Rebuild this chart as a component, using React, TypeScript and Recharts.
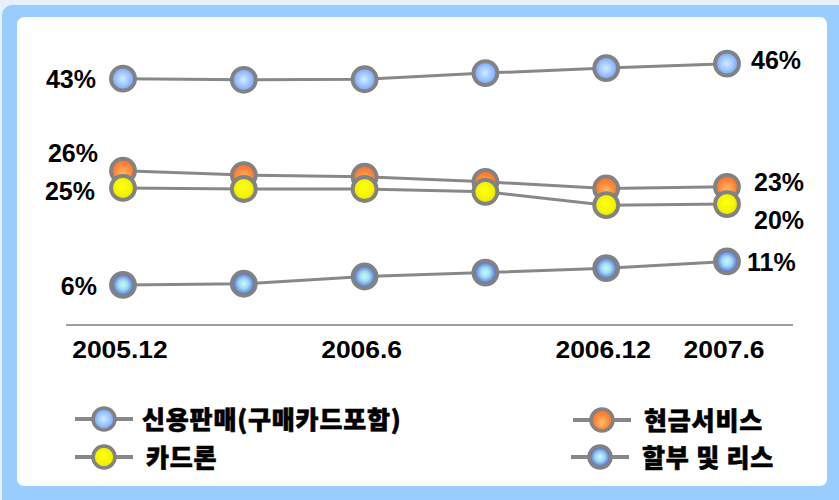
import { LineChart, Line, XAxis, YAxis, LabelList } from 'recharts'

// x categories (only four are labelled on the original)
const xLabels = ['2005.12', '', '2006.6', '', '2006.12', '2007.6']

// shares in %
const creditSales = [42.7, 42.5, 42.6, 43.7, 44.6, 45.4]
const cashService = [26.2, 25.4, 25.1, 24.2, 23.0, 23.3]
const cardLoan = [23.1, 22.9, 22.9, 22.4, 20.0, 20.2]
const installment = [5.7, 5.9, 7.2, 7.9, 8.7, 9.9]

// printed labels at first / last point
const creditSalesLabels = ['43%', '46%']
const cashServiceLabels = ['26%', '23%']
const cardLoanLabels = ['25%', '20%']
const installmentLabels = ['6%', '11%']

const data = xLabels.map((_, i) => ({
  idx: i,
  creditSales: creditSales[i],
  cashService: cashService[i],
  cardLoan: cardLoan[i],
  installment: installment[i],
}))

const NUM_FONT = '"Liberation Sans", Arial, sans-serif'
const KR_FONT = '"Noto Sans CJK KR", "Noto Sans", sans-serif'
const LINE = '#888888'
const DOT_STROKE = '#828282'

const Gradients = ({ suffix = '' }: { suffix?: string }) => (
  <defs>
    <radialGradient id={'gBlue' + suffix} cx="50%" cy="50%" r="50%" fx="48%" fy="50%">
      <stop offset="0%" stopColor="#d2eaff" />
      <stop offset="50%" stopColor="#a4caff" />
      <stop offset="100%" stopColor="#6e9cff" />
    </radialGradient>
    <radialGradient id={'gOrange' + suffix} cx="50%" cy="50%" r="50%" fx="50%" fy="70%">
      <stop offset="0%" stopColor="#ffc070" />
      <stop offset="55%" stopColor="#ff9240" />
      <stop offset="100%" stopColor="#ff6420" />
    </radialGradient>
    <radialGradient id={'gYellow' + suffix} cx="50%" cy="50%" r="50%" fx="45%" fy="40%">
      <stop offset="0%" stopColor="#ffff10" />
      <stop offset="70%" stopColor="#f4f400" />
      <stop offset="100%" stopColor="#d4d400" />
    </radialGradient>
    <radialGradient id={'gPurple' + suffix} cx="50%" cy="50%" r="50%">
      <stop offset="0%" stopColor="#c8f8fa" />
      <stop offset="40%" stopColor="#a0dcf0" />
      <stop offset="75%" stopColor="#6c90dc" />
      <stop offset="100%" stopColor="#3c4cb4" />
    </radialGradient>
  </defs>
)

// label renderer: [dx, dy] for the first and the last point
const endLabel = (labels: string[], first: [number, number], last: [number, number]) =>
  (props: any) => {
    const { x, y, index } = props
    if (index !== 0 && index !== xLabels.length - 1) return null
    const isFirst = index === 0
    const [dx, dy] = isFirst ? first : last
    return (
      <text x={x + dx} y={y + dy} textAnchor={isFirst ? 'end' : 'start'} dominantBaseline="central"
        fontFamily={NUM_FONT} fontWeight="bold" fontSize={25} fill="#000">
        {isFirst ? labels[0] : labels[1]}
      </text>
    )
  }

// tick text is drawn a bit wider than the font, like the original
const XTick = ({ x, y, payload }: any) => (
  <text transform={`translate(${x - 3},${y + 25}) scale(1.15,1)`} textAnchor="middle"
    fontFamily={NUM_FONT} fontWeight="bold" fontSize={23} fill="#000">
    {xLabels[payload.value]}
  </text>
)

const legendItems = [
  { name: '신용판매(구매카드포함)', fill: 'gBlue', left: 75, top: 419, textLeft: 142 },
  { name: '현금서비스', fill: 'gOrange', left: 573, top: 420, textLeft: 644 },
  { name: '카드론', fill: 'gYellow', left: 75, top: 457, textLeft: 146 },
  { name: '할부 및 리스', fill: 'gPurple', left: 571, top: 457, textLeft: 642 },
]

const LegendItem = ({ item, i }: any) => (
  <>
    <svg width={60} height={30} style={{ position: 'absolute', left: item.left, top: item.top - 15 }}>
      <Gradients suffix={'L' + i} />
      <line x1={0} y1={15} x2={58} y2={15} stroke={LINE} strokeWidth={4} />
      <circle cx={29} cy={15} r={11} fill={`url(#${item.fill}L${i})`} stroke={DOT_STROKE} strokeWidth={3.5} />
    </svg>
    <div style={{
      position: 'absolute', left: item.textLeft, top: item.top - 18, height: 34, lineHeight: '34px',
      fontFamily: KR_FONT, fontWeight: 900, fontSize: 25, letterSpacing: 0.8, color: '#000', whiteSpace: 'nowrap',
      WebkitTextStroke: '0.6px #000',
    }}>
      {item.name}
    </div>
  </>
)

export default function App() {
  const dot = (fill: string) => ({ r: 12, fill: `url(#${fill})`, stroke: DOT_STROKE, strokeWidth: 3.8 })
  return (
    <div style={{ position: 'absolute', left: 0, top: 0, width: 839, height: 500, background: '#e8f1fb', overflow: 'hidden' }}>
      <div style={{ position: 'absolute', left: 2, top: 5, width: 850, height: 510, background: '#99ccff', borderRadius: 10 }} />
      <div style={{ position: 'absolute', left: 17, top: 17, width: 810, height: 469, background: '#fff', borderRadius: 7 }} />

      <div style={{ position: 'absolute', left: 0, top: 0 }}>
        <LineChart width={839} height={500} data={data} margin={{ top: 38, right: 46, bottom: 145, left: 66 }}>
          <Gradients />
          <XAxis dataKey="idx" type="category" height={30} padding={{ left: 57, right: 66 }}
            axisLine={{ stroke: '#a0a0a0', strokeWidth: 2 }} tickLine={false} tick={<XTick />} interval={0} />
          <YAxis hide domain={[-1.5, 50]} />

          <Line type="linear" dataKey="creditSales" stroke={LINE} strokeWidth={3} dot={dot('gBlue')} isAnimationActive={false}>
            <LabelList dataKey="creditSales" content={endLabel(creditSalesLabels, [-27, 0], [24, -4])} />
          </Line>
          <Line type="linear" dataKey="cashService" stroke={LINE} strokeWidth={3} dot={dot('gOrange')} isAnimationActive={false}>
            <LabelList dataKey="cashService" content={endLabel(cashServiceLabels, [-25, -18], [27, -5])} />
          </Line>
          <Line type="linear" dataKey="cardLoan" stroke={LINE} strokeWidth={3} dot={dot('gYellow')} isAnimationActive={false}>
            <LabelList dataKey="cardLoan" content={endLabel(cardLoanLabels, [-28, 3], [27, 16])} />
          </Line>
          <Line type="linear" dataKey="installment" stroke={LINE} strokeWidth={3} dot={dot('gPurple')} isAnimationActive={false}>
            <LabelList dataKey="installment" content={endLabel(installmentLabels, [-26, 1], [20, 1])} />
          </Line>
        </LineChart>
      </div>

      {legendItems.map((item, i) => <LegendItem key={item.name} item={item} i={i} />)}
    </div>
  )
}
